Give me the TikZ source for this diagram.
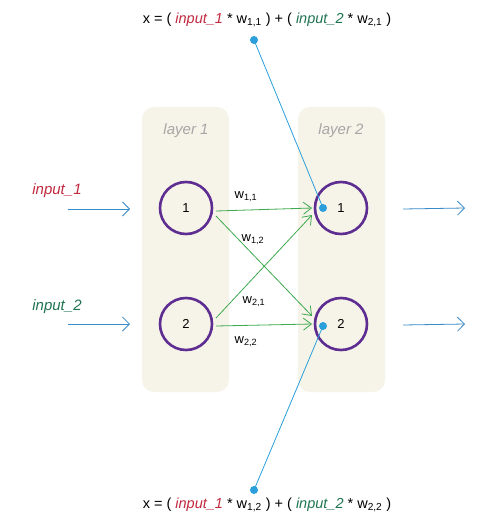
\documentclass[tikz,border=0pt]{standalone}
\usepackage{fontspec}
\setmainfont{Liberation Sans}
\usetikzlibrary{arrows.meta}
\definecolor{beige}{HTML}{F6F4E8}
\definecolor{purp}{HTML}{5E2D91}
\definecolor{inred}{HTML}{C2283E}
\definecolor{ingreen}{HTML}{1F7552}
\definecolor{arrgreen}{HTML}{3DAA4F}
\definecolor{blu}{HTML}{2A9FDB}
\definecolor{arrblue}{HTML}{3A8BC8}
\begin{document}
\begin{tikzpicture}[x=1pt,y=-1pt,
  layerbox/.style={fill=beige,rounded corners=12pt},
  neuron/.style={circle,draw=purp,line width=2.6pt,minimum size=52pt,inner sep=0pt,font=\fontsize{13}{15}\selectfont},
  layerlabel/.style={text=black!35,font=\itshape\fontsize{15}{17}\selectfont},
  wlabel/.style={font=\fontsize{13}{15}\selectfont},
  conn/.style={draw=arrgreen,line width=0.8pt,-{Straight Barb[length=8pt,width=12pt]}},
  ioarrow/.style={draw=arrblue,line width=0.8pt,-{Straight Barb[length=7pt,width=14pt]}},
  probe/.style={draw=blu,line width=0.8pt},
  dot/.style={circle,fill=blu,inner sep=0pt,minimum size=8pt},
  inlabel/.style={font=\itshape\fontsize{15}{17}\selectfont},
  formula/.style={font=\fontsize{14.5}{17}\selectfont}]
\useasboundingbox (0,0) rectangle (503,524);
\fill[white] (0,0) rectangle (503,524);
% layers
\path[layerbox] (142,107) rectangle (229,392);
\path[layerbox] (298,107) rectangle (385,392);
\node[layerlabel] (l1) at (186,131) {layer 1};
\node[layerlabel] (l2) at (341,131) {layer 2};
% neurons
\node[neuron] (a1) at (186,208) {1};
\node[neuron] (a2) at (186,324) {2};
\node[neuron] (b1) at (341,208) {1};
\node[neuron] (b2) at (341,324) {2};
% dots
\node[dot] (d1) at (323,208) {};
\node[dot] (d2) at (323,326) {};
\node[dot] (t) at (254,40) {};
\node[dot] (bt) at (254,490) {};
\draw[probe] (t.center) -- (d1.center);
\draw[probe] (bt.center) -- (d2.center);
% connections
\coordinate (a1o) at (216,211);
\coordinate (a1d) at (216,216);
\coordinate (a2u) at (216,318);
\coordinate (a2o) at (216,326);
\coordinate (b1i) at (312,208);
\coordinate (b1u) at (312,215);
\coordinate (b2d) at (312,316);
\coordinate (b2i) at (312,324);
\draw[conn] (a1o) -- (b1i);
\draw[conn] (a1d) -- (b2d);
\draw[conn] (a2u) -- (b1u);
\draw[conn] (a2o) -- (b2i);
\node[wlabel] (w11) at (246,197) {w\textsubscript{1,1}};
\node[wlabel] (w12) at (253,240) {w\textsubscript{1,2}};
\node[wlabel] (w21) at (254,302) {w\textsubscript{2,1}};
\node[wlabel] (w22) at (246,342) {w\textsubscript{2,2}};
% inputs
\node[inlabel,text=inred] (in1) at (57,191) {input\_1};
\node[inlabel,text=ingreen] (in2) at (57,307) {input\_2};
\coordinate (i1s) at (68,209);
\coordinate (i1e) at (130,209);
\coordinate (i2s) at (68,324);
\coordinate (i2e) at (130,324);
\draw[ioarrow] (i1s) -- (i1e);
\draw[ioarrow] (i2s) -- (i2e);
% outputs
\coordinate (o1s) at (403,209);
\coordinate (o1e) at (465,208);
\coordinate (o2s) at (403,325);
\coordinate (o2e) at (465,324);
\draw[ioarrow] (o1s) -- (o1e);
\draw[ioarrow] (o2s) -- (o2e);
% formulas
\node[formula] (f1) at (267,20) {x = ( \textcolor{inred}{\itshape input\_1} * w\textsubscript{1,1} ) + ( \textcolor{ingreen}{\itshape input\_2} * w\textsubscript{2,1} )};
\node[formula] (f2) at (267,505) {x = ( \textcolor{inred}{\itshape input\_1} * w\textsubscript{1,2} ) + ( \textcolor{ingreen}{\itshape input\_2} * w\textsubscript{2,2} )};
\end{tikzpicture}
\end{document}
